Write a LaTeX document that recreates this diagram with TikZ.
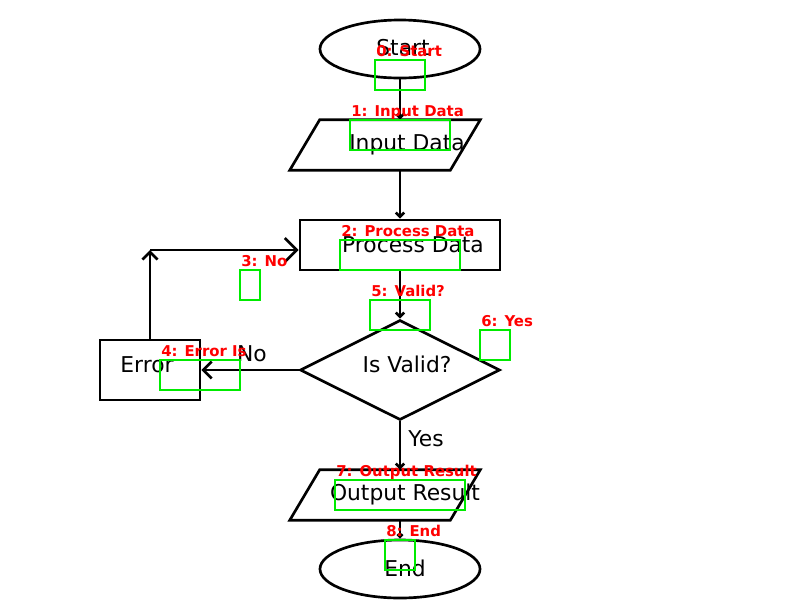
\documentclass[tikz,border=0pt]{standalone}
\usepackage{fontspec}
\setmainfont{DejaVu Sans}
\usepackage{tikz}
\usetikzlibrary{shapes.geometric, arrows.meta}
\definecolor{hitgreen}{RGB}{0,235,0}

\begin{document}
\begin{tikzpicture}[x=0.025cm, y=-0.025cm,
	outline/.style={draw, line width=1.9pt, inner sep=0pt},
	slantbox/.style={rectangle, inner sep=0pt, minimum width=4cm, minimum height=1.25cm},
	txt/.style={font=\fontsize{15.5}{18}\selectfont, anchor=base, inner sep=0pt},
	flow/.style 2 args={line width=1.9pt, -{Straight Barb[length=#1, width=#2]}},
	hitbox/.style={draw=hitgreen, line width=1.6pt},
	note/.style={text=red, font=\fontsize{10.6}{12}\selectfont\bfseries, anchor=base west, inner sep=0pt}]
	\useasboundingbox (0,0) rectangle (800,600);

	% shapes
	\node[outline, ellipse, minimum width=4cm, minimum height=1.45cm] (start) at (400,49) {};
	\node[slantbox] (input) at (385,145) {};
	\draw[outline] ([xshift=0.375cm]input.north west) -- ([xshift=0.375cm]input.north east)
		-- ([xshift=-0.375cm]input.south east) -- ([xshift=-0.375cm]input.south west) -- cycle;
	\node[outline, rectangle, minimum width=5cm, minimum height=1.25cm] (process) at (400,245) {};
	\node[outline, diamond, aspect=2, minimum width=5cm, minimum height=2.5cm] (valid) at (400,370) {};
	\node[outline, rectangle, minimum width=2.5cm, minimum height=1.5cm] (error) at (150,370) {};
	\node[slantbox] (output) at (385,495) {};
	\draw[outline] ([xshift=0.375cm]output.north west) -- ([xshift=0.375cm]output.north east)
		-- ([xshift=-0.375cm]output.south east) -- ([xshift=-0.375cm]output.south west) -- cycle;
	\node[outline, ellipse, minimum width=4cm, minimum height=1.45cm] (end) at (400,569) {};

	% texts
	\node[txt] (starttxt) at (403,55) {Start};
	\node[txt] (inputtxt) at (407,150) {Input Data};
	\node[txt] (processtxt) at (413,252) {Process Data};
	\node[txt] (validtxt) at (407,372) {Is Valid?};
	\node[txt] (errortxt) at (147,372) {Error};
	\node[txt] (outputtxt) at (405,500) {Output Result};
	\node[txt] (endtxt) at (405,576) {End};
	\node[txt] (nolbl) at (252,361) {No};
	\node[txt] (yeslbl) at (426,446) {Yes};

	% connectors
	\coordinate (bend) at (error.north |- 0,250);
	\draw[flow={2.6pt}{5.2pt}] (start.south) -- (input.north -| start.south);
	\draw[flow={3pt}{6pt}] (input.south -| process.north) -- (process.north);
	\draw[flow={3pt}{6pt}] (process.south) -- (valid.north);
	\draw[flow={6pt}{12pt}] (valid.west) -- (error.east);
	\draw[flow={5.4pt}{10.8pt}] (error.north) -- (bend);
	\draw[flow={8.5pt}{17pt}] (bend) -- (bend -| process.west);
	\draw[flow={3pt}{6pt}] (valid.south) -- (output.north -| valid.south);
	\draw[flow={1.8pt}{3.6pt}] (output.south -| end.north) -- (end.north);

	% overlay marks
	\foreach \n/\xa/\ya/\xb/\yb/\t in {0/375/60/425/90/{0: Start}, 1/350/120/450/150/{1: Input Data},
		2/340/240/460/270/{2: Process Data}, 3/240/270/260/300/{3: No}, 4/160/360/240/390/{4: Error Is},
		5/370/300/430/330/{5: Valid?}, 6/480/330/510/360/{6: Yes}, 7/335/480/465/510/{7: Output Result},
		8/385/540/415/570/{8: End}} {
		\draw[hitbox] (\xa,\ya) rectangle (\xb,\yb);
		\node[note] (note\n) at (\xa+1,\ya-4) {\t};
	}
\end{tikzpicture}
\end{document}
